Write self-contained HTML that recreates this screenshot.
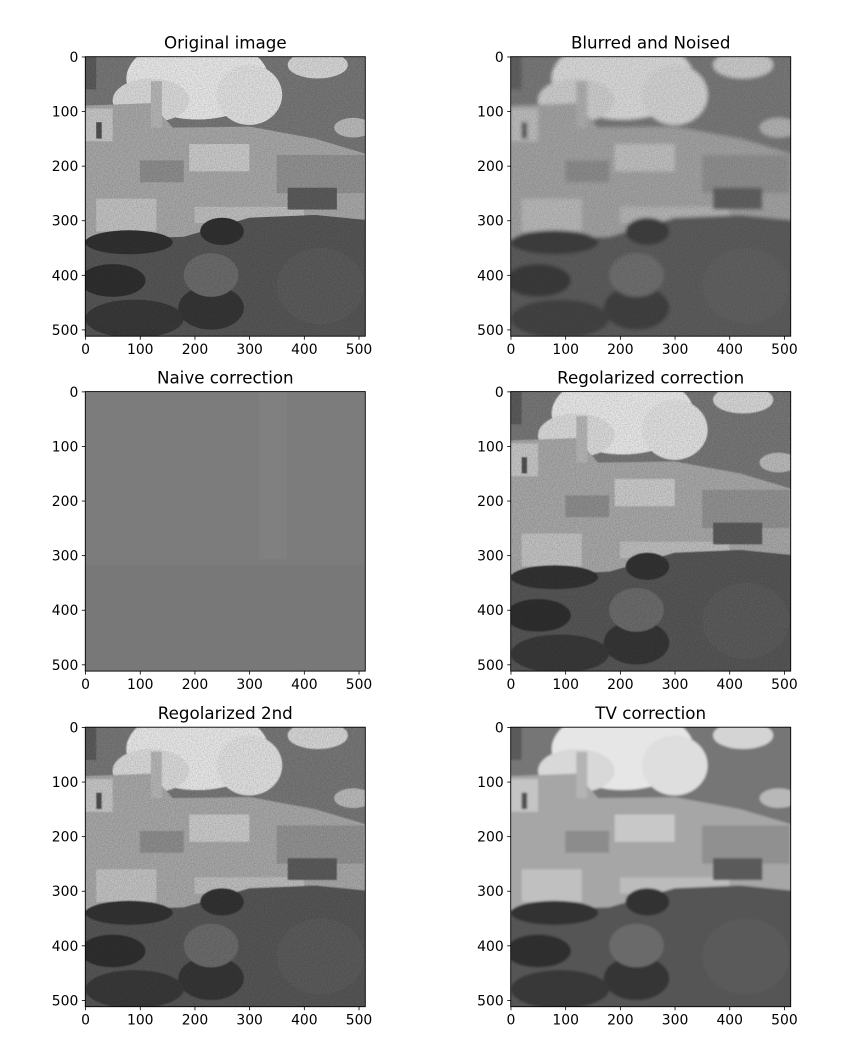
<!DOCTYPE html>
<html><head><meta charset="utf-8"><style>
html,body{margin:0;padding:0;background:#fff;}
svg{display:block;font-family:"DejaVu Sans","Liberation Sans",sans-serif;}
</style></head><body>
<svg id="fig" width="850" height="1050" viewBox="0 0 850 1050" xmlns="http://www.w3.org/2000/svg">
<defs>
<filter id="blur2" x="-5%" y="-5%" width="110%" height="110%"><feGaussianBlur stdDeviation="3.5"/></filter>
<filter id="blur1" x="-5%" y="-5%" width="110%" height="110%"><feGaussianBlur stdDeviation="2"/></filter>
<filter id="blur0" x="-5%" y="-5%" width="110%" height="110%"><feGaussianBlur stdDeviation="1"/></filter>
<filter id="noise" x="0" y="0" width="100%" height="100%"><feTurbulence type="fractalNoise" baseFrequency="0.45" numOctaves="1" seed="3"/><feColorMatrix type="matrix" values="0 0 0 0 0  0 0 0 0 0  0 0 0 0 0  0.35 0 0 0 -0.12"/></filter>
</defs>
<rect width="850" height="1050" fill="#fff"/>
</svg>
<script>
const titles = ["Original image","Blurred and Noised","Naive correction","Regolarized correction","Regolarized 2nd","TV correction"];
const panelNames = ["original-image","blurred-noised","naive-correction","regularized-correction","regularized-2nd","tv-correction"];
const xTicks = [0,100,200,300,400,500];
const yTicks = [0,100,200,300,400,500];
const imgSize = [512];
const NS="http://www.w3.org/2000/svg";
const fig=document.getElementById('fig');
const colsX=[85.3,510.7], rowsY=[56.7,391.6,727.2], W=280, H=279.5;
function mk(tag,attrs,parent){const e=document.createElementNS(NS,tag);for(const k in attrs)e.setAttribute(k,attrs[k]);(parent||fig).appendChild(e);return e;}
function scene(g,mode){
  const filt = mode===1?'url(#blur2)':mode===5?'url(#blur1)':mode===0?'':'url(#blur0)';
  const s=mk('g',{filter:filt},g);
  mk('rect',{x:-20,y:-20,width:552,height:552,fill:'#6e6e6e'},s);
  mk('rect',{x:-20,y:-20,width:552,height:200,fill:'#767676'},s);
  mk('ellipse',{cx:205,cy:40,rx:130,ry:75,fill:'#e6e6e6'},s);
  mk('ellipse',{cx:120,cy:80,rx:70,ry:40,fill:'#d8d8d8'},s);
  mk('ellipse',{cx:300,cy:70,rx:60,ry:55,fill:'#dedede'},s);
  mk('ellipse',{cx:425,cy:15,rx:55,ry:25,fill:'#d4d4d4'},s);
  mk('ellipse',{cx:490,cy:130,rx:35,ry:18,fill:'#b8b8b8'},s);
  mk('rect',{x:-20,y:-20,width:40,height:80,fill:'#5a5a5a'},s);
  mk('polygon',{points:'-10,90 120,85 160,130 300,128 420,150 520,180 520,300 420,290 300,295 180,330 -10,335',fill:'#a6a6a6'},s);
  mk('rect',{x:120,y:45,width:20,height:85,fill:'#b4b4b4'},s);
  mk('rect',{x:0,y:95,width:50,height:60,fill:'#c4c4c4'},s);
  mk('rect',{x:190,y:160,width:110,height:50,fill:'#c8c8c8'},s);
  mk('rect',{x:20,y:260,width:110,height:60,fill:'#c0c0c0'},s);
  mk('rect',{x:200,y:275,width:200,height:30,fill:'#bcbcbc'},s);
  mk('rect',{x:350,y:180,width:160,height:70,fill:'#909090'},s);
  mk('rect',{x:100,y:190,width:80,height:40,fill:'#8c8c8c'},s);
  mk('rect',{x:370,y:240,width:90,height:40,fill:'#5a5a5a'},s);
  mk('rect',{x:20,y:120,width:10,height:30,fill:'#505050'},s);
  mk('polygon',{points:'-10,335 180,330 300,295 420,290 520,300 520,520 -10,520',fill:'#555'},s);
  mk('ellipse',{cx:80,cy:340,rx:80,ry:22,fill:'#303030'},s);
  mk('ellipse',{cx:50,cy:410,rx:60,ry:30,fill:'#2e2e2e'},s);
  mk('ellipse',{cx:230,cy:460,rx:60,ry:40,fill:'#353535'},s);
  mk('ellipse',{cx:90,cy:480,rx:90,ry:35,fill:'#383838'},s);
  mk('ellipse',{cx:250,cy:320,rx:40,ry:25,fill:'#303030'},s);
  mk('ellipse',{cx:230,cy:400,rx:50,ry:40,fill:'#6a6a6a'},s);
  mk('ellipse',{cx:430,cy:420,rx:80,ry:70,fill:'#5a5a5a'},s);
  if(mode!==5) mk('rect',{x:-20,y:-20,width:552,height:552,filter:'url(#noise)'},g);
  if(mode===1){mk('rect',{x:-20,y:-20,width:552,height:552,fill:'#808080','fill-opacity':0.15},g);}
}
titles.forEach((t,i)=>{
  const x0=colsX[i%2], y0=rowsY[Math.floor(i/2)];
  const sx=W/imgSize[0], sy=H/imgSize[0];
  const X=v=>x0+(v+0.5)*sx, Y=v=>y0+(v+0.5)*sy;
  const g=mk('g',{});
  
  
  const cid='clip'+i;
  const cp=mk('clipPath',{id:cid},g);
  mk('rect',{x:x0,y:y0,width:W,height:H},cp);
  const ig=mk('g',{'clip-path':'url(#'+cid+')'},g);
  
  
  if(i===2){
    mk('rect',{x:x0,y:y0,width:W,height:H,fill:'#7c7c7c'},ig);
    mk('rect',{x:x0,y:y0+H*0.62,width:W,height:H*0.38,fill:'#787878'},ig);
    mk('rect',{x:x0+W*0.62,y:y0,width:W*0.1,height:H*0.6,fill:'#808080'},ig);
  } else {
    const inner=mk('g',{transform:`translate(${x0},${y0}) scale(${sx},${sy})`},ig);
    scene(inner,i);
  }
  const fr=mk('rect',{x:x0,y:y0,width:W,height:H,fill:'none',stroke:'#000','stroke-width':0.9},g);
  
  
  xTicks.forEach(v=>{
    mk('line',{x1:X(v),x2:X(v),y1:y0+H,y2:y0+H+3.5,stroke:'#000','stroke-width':0.8},g);
    const tx=mk('text',{x:X(v),y:y0+H+18,'text-anchor':'middle','font-size':13.9,fill:'#000'},g);
    tx.textContent=v;
    
    
  });
  yTicks.forEach(v=>{
    mk('line',{x1:x0-3.5,x2:x0,y1:Y(v),y2:Y(v),stroke:'#000','stroke-width':0.8},g);
    const ty=mk('text',{x:x0-7,y:Y(v)+5,'text-anchor':'end','font-size':13.9,fill:'#000'},g);
    ty.textContent=v;
    
    
  });
  const tt=mk('text',{x:x0+W/2,y:y0-8,'text-anchor':'middle','font-size':16.7,fill:'#000'},g);
  tt.textContent=t;
  
  
});
</script>
</body></html>
